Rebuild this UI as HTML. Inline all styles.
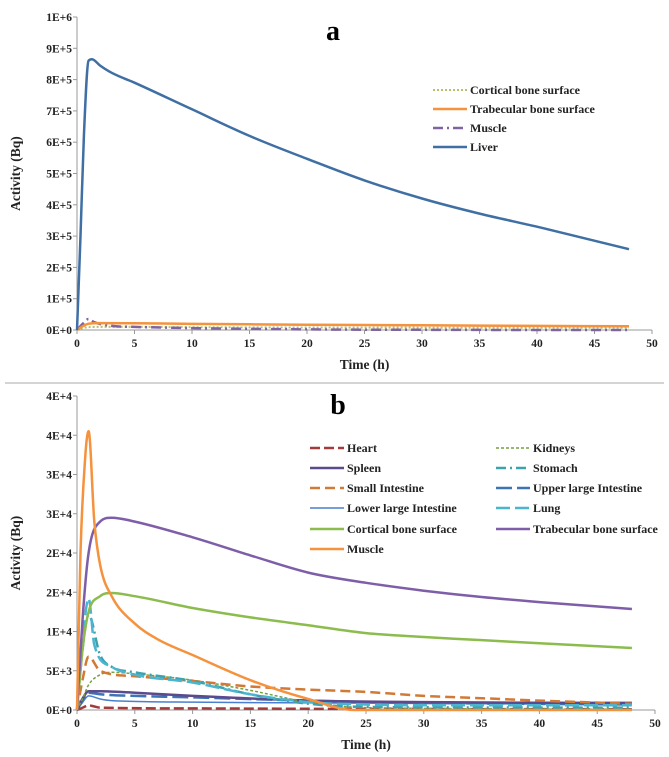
<!DOCTYPE html>
<html><head><meta charset="utf-8">
<style>
html,body{margin:0;padding:0;background:#fff;}
svg{display:block;font-family:"Liberation Serif",serif;font-weight:bold;}
</style></head>
<body>
<svg id="root" width="669" height="757" viewBox="0 0 669 757"></svg>
<script>
// ---- Chart A data ----
const aTicksY = ["0E+0","1E+5","2E+5","3E+5","4E+5","5E+5","6E+5","7E+5","8E+5","9E+5","1E+6"];
const aTicksX = [0,5,10,15,20,25,30,35,40,45,50];
const aLiverT = [0,0.3,0.6,1,1.3,2,3,5,10,15,20,25,30,35,40,48];
const aLiverV = [0,300000,620000,860000,865000,845000,822000,790000,705000,620000,547000,478000,420000,372000,330000,258000];
const aTrabT = [0,0.5,1,2,5,10,20,30,40,48];
const aTrabV = [0,12000,20000,22000,21500,19500,17000,15000,13000,12000];
const aMuscT = [0,0.5,1,1.5,3,5,10,20,30,48];
const aMuscV = [0,20000,35000,25000,13000,10000,6000,2000,500,0];
const aCortT = [0,0.5,1,2,5,10,20,30,48];
const aCortV = [0,6000,9000,10000,9800,9000,8000,7500,7000];
// ---- Chart B data ----
const bTicksY = ["0E+0","5E+3","1E+4","2E+4","2E+4","3E+4","3E+4","4E+4","4E+4"];
const bTicksX = [0,5,10,15,20,25,30,35,40,45,50];
const bTrabT = [0,0.5,1,2,3,5,10,15,20,25,30,35,40,48];
const bTrabV = [0,12000,20000,24000,24500,24000,22000,19700,17500,16200,15200,14400,13750,12870];
const bCortT = [0,0.5,1,2,3,5,10,15,20,25,30,35,40,48];
const bCortV = [0,8000,12500,14500,14900,14500,13000,11800,10800,9800,9300,8900,8500,7900];
const bMuscT = [0,0.3,0.7,1,1.5,2,3,5,7,10,15,20,24,48];
const bMuscV = [0,20000,32000,35500,24000,18500,14500,11000,9000,7000,3800,1400,0,0];
const bLungT = [0,0.5,1,1.5,3,5,10,15,20,25,30,48];
const bLungV = [0,9000,14200,8300,5500,4500,3500,2000,1000,700,600,600];
const bStomT = [0,0.5,1,2,3,5,10,15,20,25,48];
const bStomV = [0,8000,12100,7000,5500,4800,3700,2000,800,400,300];
const bSmallT = [0,0.5,1,2,5,10,15,20,25,30,35,40,48];
const bSmallV = [0,4000,6800,5000,4300,3700,3000,2600,2300,1800,1500,1200,800];
const bKidT = [0,0.5,1,2,3,5,10,15,20,25,48];
const bKidV = [0,1500,3200,4500,4800,4600,3800,2500,1000,300,100];
const bSplT = [0,0.5,1,2,5,10,20,30,48];
const bSplV = [0,1500,2400,2400,2200,1800,1200,1000,900];
const bUpT = [0,0.5,1,2,5,10,20,30,48];
const bUpV = [0,1300,2200,2000,1800,1600,1200,900,700];
const bLowT = [0,0.5,1,2,3,10,20,48];
const bLowV = [0,1000,1800,1400,1200,1000,900,700];
const bHeartT = [0,0.5,1,1.5,2,10,20,48];
const bHeartV = [0,300,600,450,300,200,150,100];

const NS="http://www.w3.org/2000/svg";
const root=document.getElementById('root');
function mk(tag,attrs,parent){const e=document.createElementNS(NS,tag);for(const k in attrs)e.setAttribute(k,attrs[k]);(parent||root).appendChild(e);return e;}

function smoothPath(P){
  const n=P.length; if(n<3) return P.map((p,i)=>(i?'L':'M')+p[0]+','+p[1]).join(' ');
  const d=[],m=[];
  for(let i=0;i<n-1;i++){d.push((P[i+1][1]-P[i][1])/(P[i+1][0]-P[i][0]));}
  m[0]=d[0]; m[n-1]=d[n-2];
  for(let i=1;i<n-1;i++){ m[i]=(d[i-1]*d[i]<=0)?0:(d[i-1]+d[i])/2; }
  for(let i=0;i<n-1;i++){
    if(d[i]===0){m[i]=0;m[i+1]=0;continue;}
    const a=m[i]/d[i],b=m[i+1]/d[i],s=a*a+b*b;
    if(s>9){const t=3/Math.sqrt(s);m[i]=t*a*d[i];m[i+1]=t*b*d[i];}
  }
  let s='M'+P[0][0].toFixed(1)+','+P[0][1].toFixed(1);
  for(let i=0;i<n-1;i++){
    const h=(P[i+1][0]-P[i][0])/3;
    s+=' C'+(P[i][0]+h).toFixed(1)+','+(P[i][1]+m[i]*h).toFixed(1)+' '+(P[i+1][0]-h).toFixed(1)+','+(P[i+1][1]-m[i+1]*h).toFixed(1)+' '+P[i+1][0].toFixed(1)+','+P[i+1][1].toFixed(1);
  }
  return s;
}

function chart(cfg){
  const g=mk('g',{});
  
  
  const sx=t=>cfg.x0+(t/50)*(cfg.x1-cfg.x0);
  const sy=v=>cfg.y0-(v/cfg.ymax)*(cfg.y0-cfg.y1);
  const ax=mk('line',{x1:cfg.x0,y1:cfg.y1,x2:cfg.x0,y2:cfg.y0,stroke:'#999','stroke-width':1},g);
  
  
  const axx=mk('line',{x1:cfg.x0,y1:cfg.y0,x2:cfg.x1,y2:cfg.y0,stroke:'#999','stroke-width':1},g);
  
  
  cfg.yt.forEach((lab,i)=>{
    const v=i*cfg.ystep, y=sy(v);
    mk('line',{x1:cfg.x0-4,y1:y,x2:cfg.x0,y2:y,stroke:'#999'},g);
    const t=mk('text',{x:cfg.x0-5,y:y+4,'text-anchor':'end','font-size':11.5,fill:'#222'},g);
    t.textContent=lab;
    
    
  });
  cfg.xt.forEach(v=>{
    const x=sx(v);
    mk('line',{x1:x,y1:cfg.y0,x2:x,y2:cfg.y0+4,stroke:'#999'},g);
    const t=mk('text',{x:x,y:cfg.y0+17,'text-anchor':'middle','font-size':11.5,fill:'#222'},g);
    t.textContent=v;
    
    
  });
  const xt=mk('text',{x:(cfg.x0+cfg.x1)/2,y:cfg.y0+39,'text-anchor':'middle','font-size':13.5,fill:'#222'},g);
  xt.textContent='Time (h)';
  
  
  const cy=(cfg.y0+cfg.y1)/2;
  const yt=mk('text',{x:20,y:cy,'text-anchor':'middle','font-size':13.5,fill:'#222',transform:`rotate(-90 20 ${cy})`},g);
  yt.textContent='Activity (Bq)';
  
  
  const tt=mk('text',{x:cfg.tx,y:cfg.ty,'text-anchor':'middle','font-size':28,fill:'#000'},g);
  tt.textContent=cfg.title;
  
  
  cfg.series.forEach(s=>{
    const P=s.t.map((t,i)=>[sx(t),sy(s.v[i])]);
    const p=mk('path',{d:smoothPath(P),fill:'none',stroke:s.c,'stroke-width':s.w,'stroke-dasharray':s.dash||'none','stroke-linejoin':'round'},g);
    
    
  });
  cfg.legend.forEach(L=>{
    const s=L.s;
    const lg=mk('g',{},g);
    
    
    mk('line',{x1:L.x,y1:L.y,x2:L.x+34,y2:L.y,stroke:s.c,'stroke-width':s.w,'stroke-dasharray':s.dash||'none'},lg);
    const t=mk('text',{x:L.x+37,y:L.y+4,'font-size':12,fill:'#222'},lg);
    t.textContent=s.label;
  });
}

const A={lv:{id:'liver',label:'Liver',t:aLiverT,v:aLiverV,c:'#3f6fa3',w:2.5},
 tr:{id:'trabecular',label:'Trabecular bone surface',t:aTrabT,v:aTrabV,c:'#f5923e',w:2.5},
 mu:{id:'muscle',label:'Muscle',t:aMuscT,v:aMuscV,c:'#8064a2',w:2.5,dash:'10 4 2 4'},
 co:{id:'cortical',label:'Cortical bone surface',t:aCortT,v:aCortV,c:'#b3c36b',w:2,dash:'2 2'}};
chart({name:'chart-a',x0:77,x1:652,y0:330,y1:17,ymax:1000000,ystep:100000,yt:aTicksY,xt:aTicksX,title:'a',tx:333,ty:40,
 series:[A.co,A.mu,A.tr,A.lv],
 legend:[{x:433,y:90,s:A.co},{x:433,y:109,s:A.tr},{x:433,y:128,s:A.mu},{x:433,y:147,s:A.lv}]});

const sep=mk('line',{x1:5,y1:383,x2:664,y2:383,stroke:'#aaa','stroke-width':1});



const B={he:{id:'heart',label:'Heart',t:bHeartT,v:bHeartV,c:'#a33b3b',w:2.5,dash:'10 4'},
 ki:{id:'kidneys',label:'Kidneys',t:bKidT,v:bKidV,c:'#77a043',w:1.5,dash:'3 2'},
 sp:{id:'spleen',label:'Spleen',t:bSplT,v:bSplV,c:'#5c4a8c',w:2.5},
 st:{id:'stomach',label:'Stomach',t:bStomT,v:bStomV,c:'#3da2b0',w:2.5,dash:'10 4 2 4'},
 si:{id:'small-intestine',label:'Small Intestine',t:bSmallT,v:bSmallV,c:'#d27a35',w:2.5,dash:'10 5'},
 ul:{id:'upper-large-intestine',label:'Upper large Intestine',t:bUpT,v:bUpV,c:'#3d74b3',w:2.5,dash:'16 5'},
 ll:{id:'lower-large-intestine',label:'Lower large Intestine',t:bLowT,v:bLowV,c:'#4a7fd0',w:1.5},
 lu:{id:'lung',label:'Lung',t:bLungT,v:bLungV,c:'#4bb5cf',w:2.5,dash:'14 5'},
 co:{id:'cortical',label:'Cortical bone surface',t:bCortT,v:bCortV,c:'#8cbc4e',w:2.5},
 tr:{id:'trabecular',label:'Trabecular bone surface',t:bTrabT,v:bTrabV,c:'#7e5ea8',w:2.5},
 mu:{id:'muscle',label:'Muscle',t:bMuscT,v:bMuscV,c:'#f5923e',w:2.5}};
chart({name:'chart-b',x0:77,x1:655,y0:710,y1:396,ymax:40000,ystep:5000,yt:bTicksY,xt:bTicksX,title:'b',tx:338,ty:414,
 series:[B.he,B.ll,B.ul,B.sp,B.ki,B.si,B.st,B.lu,B.co,B.tr,B.mu],
 legend:[{x:310,y:448,s:B.he},{x:496,y:448,s:B.ki},{x:310,y:468,s:B.sp},{x:496,y:468,s:B.st},
 {x:310,y:488,s:B.si},{x:496,y:488,s:B.ul},{x:310,y:508,s:B.ll},{x:496,y:508,s:B.lu},
 {x:310,y:529,s:B.co},{x:496,y:529,s:B.tr},{x:310,y:549,s:B.mu}]});
</script>
</body></html>
